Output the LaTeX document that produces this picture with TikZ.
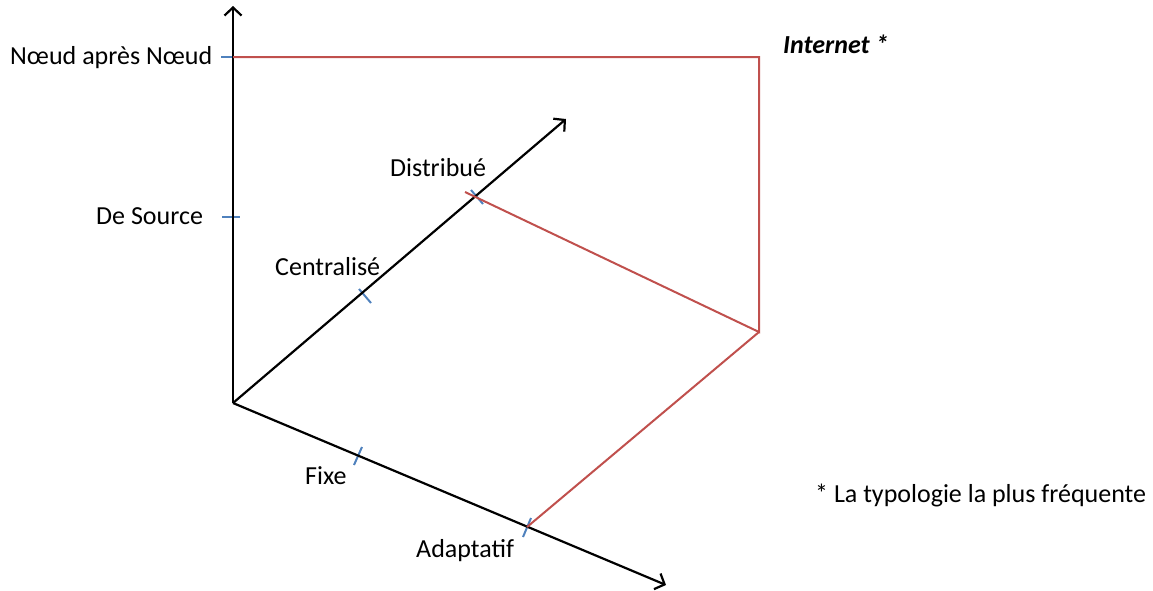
\documentclass[tikz,border=0pt]{standalone}
\usepackage{fontspec}
\setmainfont{Carlito}
\usetikzlibrary{arrows.meta}
\definecolor{rouge}{RGB}{192,80,77}
\definecolor{bleu}{RGB}{79,129,189}
\begin{document}
\begin{tikzpicture}[x=1pt,y=-1pt,
  axis/.style={line width=2.2pt, black, -{Straight Barb[length=8pt,width=17pt,line width=2.2pt]}},
  redline/.style={line width=2pt, rouge},
  tickmark/.style={line width=2pt, bleu},
  lbl/.style={font=\fontsize{26}{31}\selectfont, inner sep=0pt, anchor=base west}]
\useasboundingbox (0,0) rectangle (1153,590);
% coordinates
\coordinate (O) at (233,403);
\coordinate (Vt) at (233,6);
\coordinate (Dt) at (566,119);
\coordinate (Lt) at (666,585);
\coordinate (A) at (233,57);
\coordinate (B) at (759,57);
\coordinate (C) at (759,332);
\coordinate (D) at (465,192);
\coordinate (E) at (527,527);
% ticks
\coordinate (t1a) at (221,57);  \coordinate (t1b) at (240,57);
\coordinate (t2a) at (222,217); \coordinate (t2b) at (240,217);
\coordinate (t3a) at (359,289); \coordinate (t3b) at (371,303);
\coordinate (t4a) at (471,190); \coordinate (t4b) at (483,204);
\coordinate (t5a) at (354,465); \coordinate (t5b) at (362,447);
\coordinate (t6a) at (523,537); \coordinate (t6b) at (531,518);
\draw[tickmark] (t1a) -- (t1b);
\draw[tickmark] (t2a) -- (t2b);
\draw[tickmark] (t3a) -- (t3b);
\draw[tickmark] (t4a) -- (t4b);
\draw[tickmark] (t5a) -- (t5b);
\draw[tickmark] (t6a) -- (t6b);
% axes
\draw[axis] (O) -- (Vt);
\draw[axis] (O) -- (Dt);
\draw[axis] (O) -- (Lt);
% red lines
\draw[redline] (A) -- (B) -- (C) -- (D);
\draw[redline] (C) -- (E);
% labels
\node[lbl] (n1) at (10,64) {Nœud après Nœud};
\node[lbl] (n2) at (96,224) {De Source};
\node[lbl] (n3) at (390,176) {Distribué};
\node[lbl] (n4) at (275,275) {Centralisé};
\node[lbl] (n5) at (305,484) {Fixe};
\node[lbl] (n6) at (416,557) {Adaptatif};
\node[lbl, font=\fontsize{26}{31}\selectfont\bfseries\itshape] (n7) at (783,53) {Internet *};
\node[lbl] (n8) at (815,502) {* La typologie la plus fréquente};
\end{tikzpicture}
\end{document}
